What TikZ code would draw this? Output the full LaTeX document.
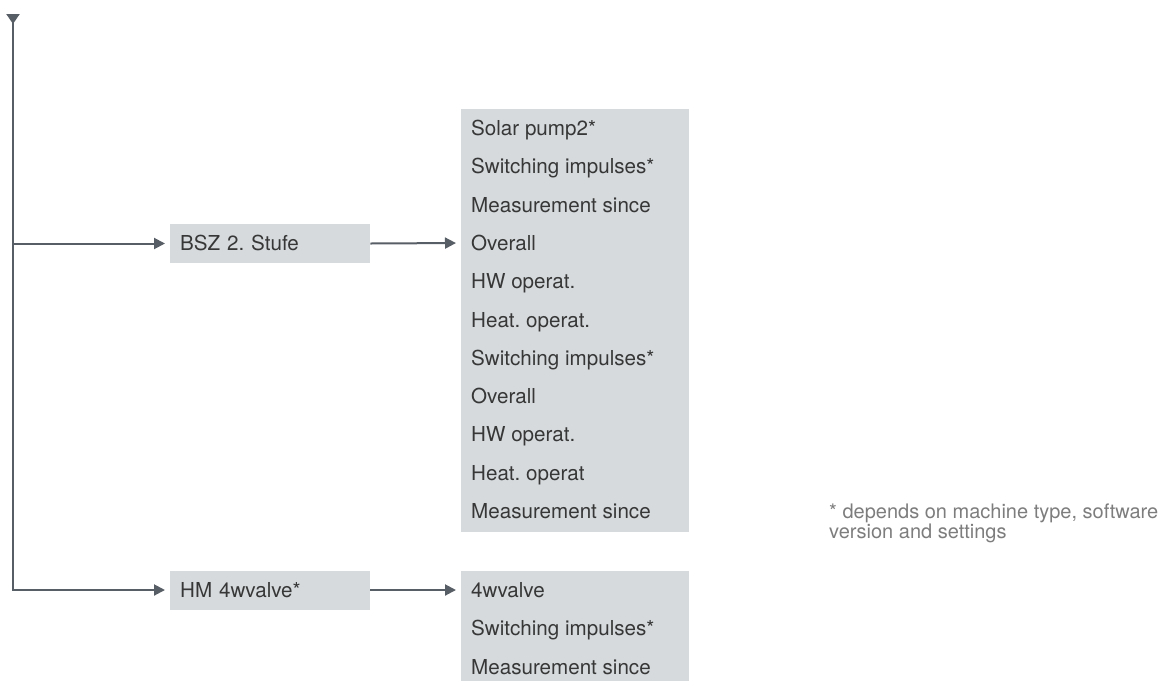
\documentclass[tikz,border=0pt]{standalone}
\usepackage{fontspec}
\setmainfont{TeX Gyre Heros}
\frenchspacing
\usepackage{tikz}
\usetikzlibrary{arrows.meta,positioning}
\definecolor{linegray}{RGB}{88,94,101}
\definecolor{panelgray}{RGB}{214,218,221}
\definecolor{textgray}{RGB}{55,55,55}
\definecolor{notegray}{RGB}{125,125,125}

\begin{document}
\begin{tikzpicture}[x=1pt, y=-1pt,
    panel/.style={fill=panelgray, inner sep=0pt, anchor=north west, minimum width=228pt},
    menu/.style={fill=panelgray, anchor=west, inner xsep=10pt, inner ysep=0pt, text width=180pt, align=left,
        minimum height=39pt, text height=14.9pt, text depth=0pt, font=\fontsize{20.6}{24}\selectfont, text=textgray},
    item/.style={anchor=west, inner xsep=10pt, inner ysep=0pt, text height=14.9pt, text depth=0pt,
        font=\fontsize{20.6}{24}\selectfont, text=textgray},
    link/.style={-{Triangle[length=11pt,width=11pt]}, line width=2pt, linegray, shorten >=5pt},
]
    \useasboundingbox (0,0) rectangle (1163,681);

    % Menu entries - left column
    \node[menu] (bsz) at (170,243.5) {BSZ 2. Stufe};
    \node[menu] (hm) at (170,590) {HM 4wvalve*};

    % Sub-menu panels
    \node[panel, minimum height=423pt] (list1) at (461,109) {};
    \node[panel, minimum height=110pt] (list2) at (461,571) {};

    % Sub-menu items
    \foreach \txt [count=\i] in {Solar pump2*, Switching impulses*, Measurement since, Overall,
        HW operat., Heat. operat., Switching impulses*, Overall, HW operat., Heat. operat, Measurement since}
        \node[item] (a\i) at (461,{243+38.3*(\i-4)}) {\txt};
    \foreach \txt [count=\i] in {4wvalve, Switching impulses*, Measurement since}
        \node[item] (b\i) at (461,{590+38.3*(\i-1)}) {\txt};

    % Trunk and branches
    \coordinate (top) at (13,14);
    \draw[link, {Triangle[reversed,length=10pt,width=13pt]}-{Triangle[length=11pt,width=11pt]}]
        (top) |- (hm.west);
    \draw[link] (top |- bsz.west) -- (bsz.west);
    \draw[link] (bsz.east) -- (a4.west);
    \draw[link] (hm.east) -- (b1.west);

    % Footnote
    \node[anchor=north west, inner sep=0pt, align=left, text=notegray,
        font=\fontsize{20}{20.5}\selectfont] (note) at (829,503.5)
        {* depends on machine type, software\\version and settings};
\end{tikzpicture}
\end{document}
